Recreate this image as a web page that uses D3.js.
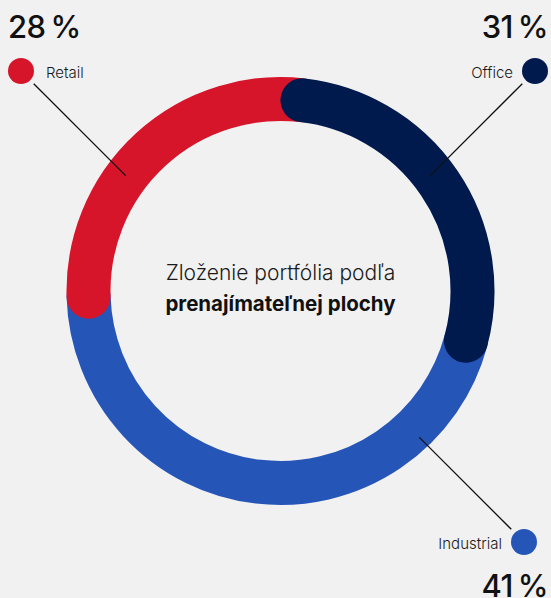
<!DOCTYPE html>
<html>
<head>
<meta charset="utf-8">
<script src="https://cdn.jsdelivr.net/npm/d3@7"></script>
<style>
  html, body { margin: 0; padding: 0; background: #f1f1f1; }
  svg { display: block; font-family: Inter, "Noto Sans", sans-serif; }
</style>
</head>
<body>
<svg id="chart"></svg>
<script>
// data (clockwise from 12 o'clock)
var categories = ["Office", "Industrial", "Retail"];
var values = [31, 41.7, 27.3];
var percentLabels = ["31 %", "41 %", "28 %"];
var colors = ["#001a4e", "#2655b8", "#d6142a"];
var titleLines = ["Zloženie portfólia podľa", "prenajímateľnej plochy"];

// which segment sits on top (higher = drawn later)
var zRank = { "Industrial": 0, "Retail": 1, "Office": 2 };

var W = 551, H = 598;
var cx = 280.5, cy = 291, r = 192, sw = 44;
var capA = (sw / 2) / r;

var svg = d3.select("#chart")
  .attr("width", W)
  .attr("height", H);

svg.append("rect").attr("width", W).attr("height", H).attr("fill", "#f1f1f1");

var pie = d3.pie().sort(null).value(function(d) { return d.value; });
var rows = categories.map(function(c, i) {
  return { name: c, value: values[i], label: percentLabels[i], color: colors[i] };
});
var arcs = pie(rows);

// stroke path along the centre line, angle 0 at top
function ringPath(a0, a1) {
  var p = d3.path();
  p.arc(cx, cy, r, a0 - Math.PI / 2, a1 - Math.PI / 2, false);
  return p.toString();
}

var n = arcs.length;
arcs.forEach(function(d, i) {
  var prev = arcs[(i - 1 + n) % n], next = arcs[(i + 1) % n];
  var a0 = d.startAngle + capA, a1 = d.endAngle - capA;
  // run under neighbours that are drawn on top
  if (zRank[prev.data.name] > zRank[d.data.name]) a0 -= 2 * capA;
  if (zRank[next.data.name] > zRank[d.data.name]) a1 += 2 * capA;
  d.a0 = a0; d.a1 = a1;
});

var ring = svg.append("g");
arcs.slice().sort(function(a, b) { return zRank[a.data.name] - zRank[b.data.name]; })
  .forEach(function(d) {
    ring.append("path")
      .attr("d", ringPath(d.a0, d.a1))
      .attr("fill", "none")
      .attr("stroke", d.data.color)
      .attr("stroke-width", sw)
      .attr("stroke-linecap", "round");
  });

// legends: dot, name, big percent and a 45deg leader into the ring
var legendPos = {
  "Retail":     { x: 21,  y: 71,  dx: 1,  dy: 1,  anchor: "start", px: 8,   py: 38 },
  "Office":     { x: 535, y: 71,  dx: -1, dy: 1,  anchor: "end",   px: 548, py: 38 },
  "Industrial": { x: 524, y: 542, dx: -1, dy: -1, anchor: "end",   px: 548, py: 597 }
};

arcs.forEach(function(d) {
  var L = legendPos[d.data.name];
  var g = svg.append("g");
  var s0 = 18 / Math.SQRT2, s1 = 148 / Math.SQRT2;
  g.append("line")
    .attr("x1", L.x + L.dx * s0).attr("y1", L.y + L.dy * s0)
    .attr("x2", L.x + L.dx * s1).attr("y2", L.y + L.dy * s1)
    .attr("stroke", "#111").attr("stroke-width", 1.3);
  g.append("circle")
    .attr("cx", L.x).attr("cy", L.y).attr("r", 13)
    .attr("fill", d.data.color);
  g.append("text")
    .attr("x", L.anchor === "start" ? L.x + 25 : L.x - 22)
    .attr("y", L.y + 7)
    .attr("text-anchor", L.anchor)
    .attr("font-size", 15)
    .attr("font-weight", 300)
    .attr("fill", "#1a1a1a")
    .text(d.data.name);
  g.append("text")
    .attr("x", L.px).attr("y", L.py)
    .attr("text-anchor", L.anchor)
    .attr("font-size", 31)
    .attr("font-weight", 500)
    .attr("letter-spacing", -0.5)
    .attr("word-spacing", -3)
    .attr("fill", "#111")
    .text(d.data.label);
});

// centre title
svg.append("text")
  .attr("x", cx).attr("y", 280)
  .attr("text-anchor", "middle")
  .attr("font-size", 21)
  .attr("font-weight", 300)
  .attr("fill", "#1a1a1a")
  .text(titleLines[0]);
svg.append("text")
  .attr("x", cx).attr("y", 311)
  .attr("text-anchor", "middle")
  .attr("font-size", 20.5)
  .attr("font-weight", 700)
  .attr("fill", "#111")
  .text(titleLines[1]);
</script>
</body>
</html>
